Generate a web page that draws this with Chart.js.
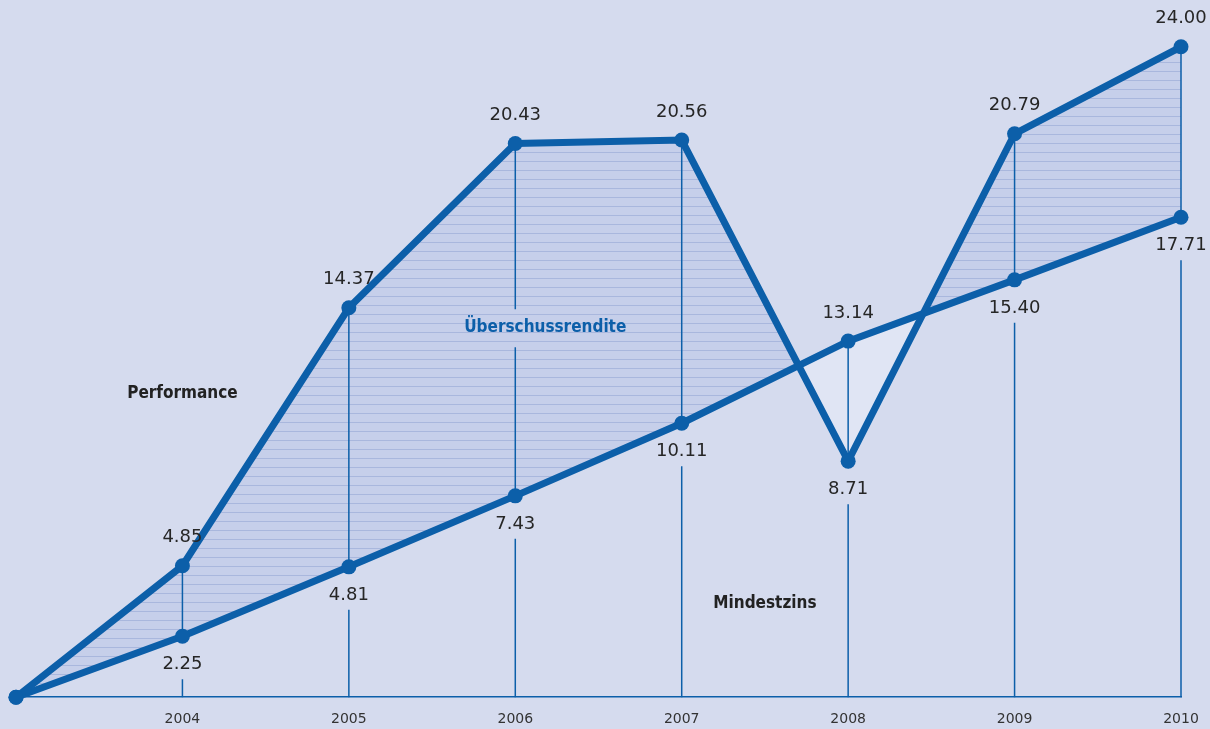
<!DOCTYPE html>
<html lang="de">
<head>
    <meta charset="UTF-8">
    <title>Performance vs. Mindestzins</title>
    <style>
        body { margin: 0; background: #d5dbee; }
    </style>
</head>
<body>
    <canvas id="myChart" width="1210" height="729"></canvas>

    <script src="https://cdn.jsdelivr.net/npm/chart.js"></script>

    <script>
        // Jahre (erster Punkt = Startwert ohne Beschriftung)
        const years = ['', '2004', '2005', '2006', '2007', '2008', '2009', '2010'];
        const performance = [0, 4.85, 14.37, 20.43, 20.56, 8.71, 20.79, 24.00];
        const mindestzins = [0, 2.25, 4.81, 7.43, 10.11, 13.14, 15.40, 17.71];

        // Textbeschriftungen im Diagramm: [text, x-index, y-wert, farbe]
        const notes = [
            ['Performance', 1, 11.2, '#222'],
            ['Überschussrendite', 3.18, 13.65, '#0c5fa9'],
            ['Mindestzins', 4.5, 3.45, '#222']
        ];

        const blue = '#0c5fa9';
        const bg = '#d5dbee';

        const ctx = document.getElementById('myChart');

        // gestreifte Füllung zwischen den Linien
        function stripes() {
            const c = document.createElement('canvas');
            c.width = 8; c.height = 9;
            const g = c.getContext('2d');
            g.fillStyle = '#c6cfea';
            g.fillRect(0, 0, 8, 9);
            g.fillStyle = '#a9b7dd';
            g.fillRect(0, 8, 8, 1);
            return g.createPattern(c, 'repeat');
        }

        const LABEL_OFF = 28;

        const background = {
            id: 'background',
            beforeDraw(chart) {
                const c = chart.ctx;
                c.save();
                c.fillStyle = bg;
                c.fillRect(0, 0, chart.width, chart.height);
                c.restore();
            }
        };

        // senkrechte Linien von der Achse bis zum oberen Punkt, mit Lücken für Beschriftungen
        const droplines = {
            id: 'droplines',
            beforeDatasetsDraw(chart) {
                const c = chart.ctx;
                const p = chart.getDatasetMeta(0).data;
                const m = chart.getDatasetMeta(1).data;
                const base = chart.chartArea.bottom;
                const gaps = {};
                // Lücke für "Überschussrendite"
                const ny = chart.scales.y.getPixelForValue(notes[1][2]);
                gaps[3] = [ny - 18, ny + 20];
                c.save();
                c.strokeStyle = blue;
                c.lineWidth = 1.5;
                for (let i = 1; i < years.length; i++) {
                    const top = Math.min(p[i].y, m[i].y);
                    const low = Math.max(p[i].y, m[i].y);
                    const x = p[i].x;
                    const segs = [];
                    // zwischen den Punkten
                    if (gaps[i]) {
                        segs.push([top, gaps[i][0]], [gaps[i][1], low]);
                    } else {
                        segs.push([top, low]);
                    }
                    // unter dem unteren Punkt, nach der Beschriftung
                    segs.push([low + LABEL_OFF + 15, base]);
                    c.beginPath();
                    segs.forEach(s => {
                        if (s[1] > s[0]) {
                            c.moveTo(x, s[0]);
                            c.lineTo(x, s[1]);
                        }
                    });
                    c.stroke();
                }
                c.restore();
            }
        };

        const valueLabels = {
            id: 'valueLabels',
            afterDatasetsDraw(chart) {
                const c = chart.ctx;
                const p = chart.getDatasetMeta(0).data;
                const m = chart.getDatasetMeta(1).data;
                c.save();
                c.textAlign = 'center';
                c.textBaseline = 'middle';
                c.font = '18px "DejaVu Sans"';
                c.fillStyle = '#262626';
                for (let i = 1; i < years.length; i++) {
                    const pv = performance[i], mv = mindestzins[i];
                    const up = pv >= mv ? p[i] : m[i];
                    const dn = pv >= mv ? m[i] : p[i];
                    c.fillText((pv >= mv ? pv : mv).toFixed(2), up.x, up.y - LABEL_OFF);
                    c.fillText((pv >= mv ? mv : pv).toFixed(2), dn.x, dn.y + LABEL_OFF);
                }
                c.font = 'bold 17px "DejaVu Sans Condensed"';
                notes.forEach(n => {
                    c.fillStyle = n[3];
                    c.fillText(n[0], chart.scales.x.getPixelForValue(n[1]), chart.scales.y.getPixelForValue(n[2]));
                });
                c.restore();
            }
        };

        new Chart(ctx, {
            type: 'line',
            data: {
                labels: years,
                datasets: [{
                    label: 'Performance',
                    data: performance,
                    borderColor: blue,
                    backgroundColor: blue,
                    borderWidth: 7,
                    pointRadius: 7.5,
                    pointBackgroundColor: blue,
                    pointBorderWidth: 0,
                    tension: 0,
                    clip: false,
                    fill: {
                        target: 1,
                        above: stripes(),
                        below: '#e0e5f4'
                    }
                }, {
                    label: 'Mindestzins',
                    data: mindestzins,
                    borderColor: blue,
                    backgroundColor: blue,
                    borderWidth: 7,
                    pointRadius: 7.5,
                    pointBackgroundColor: blue,
                    pointBorderWidth: 0,
                    tension: 0,
                    clip: false,
                    fill: false
                }]
            },
            options: {
                responsive: false,
                animation: false,
                events: [],
                layout: {
                    padding: { left: 16, right: 29, top: 0, bottom: -13 }
                },
                plugins: {
                    legend: { display: false },
                    tooltip: { enabled: false },
                    filler: { drawTime: 'beforeDatasetsDraw' }
                },
                scales: {
                    x: {
                        offset: false,
                        grid: { display: false, drawTicks: false },
                        border: { display: true, color: blue, width: 1.5 },
                        ticks: {
                            color: '#333',
                            font: { family: 'DejaVu Sans', size: 14 },
                            padding: 14,
                            autoSkip: false,
                            maxRotation: 0
                        },
                        afterFit(scale) {
                            // Platz für die Beschriftungen nicht zusätzlich reservieren
                            scale.paddingLeft = 0;
                            scale.paddingRight = 0;
                        }
                    },
                    y: {
                        display: false,
                        min: 0,
                        max: 25.45
                    }
                }
            },
            plugins: [background, droplines, valueLabels]
        });
    </script>
</body>
</html>
